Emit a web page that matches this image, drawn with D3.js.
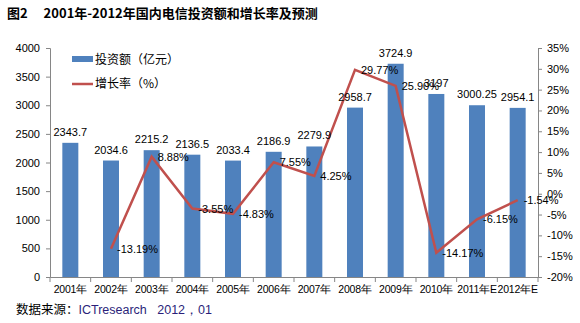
<!DOCTYPE html>
<html><head><meta charset="utf-8">
<script src="https://cdn.jsdelivr.net/npm/d3@7"></script>
<style>body{margin:0;background:#fff}svg{display:block}</style>
</head><body>
<script>
const categories = ["2001年","2002年","2003年","2004年","2005年","2006年","2007年","2008年","2009年","2010年","2011年E","2012年E"];
const investment = [2343.7,2034.6,2215.2,2136.5,2033.4,2186.9,2279.9,2958.7,3724.9,3197,3000.25,2954.1];
const investmentLabels = ["2343.7","2034.6","2215.2","2136.5","2033.4","2186.9","2279.9","2958.7","3724.9","3197","3000.25","2954.1"];
const growth = [null,-13.19,8.88,-3.55,-4.83,7.55,4.25,29.77,25.90,-14.17,-6.15,-1.54];
const leftTicks = [0,500,1000,1500,2000,2500,3000,3500,4000];
const rightTicks = [-20,-15,-10,-5,0,5,10,15,20,25,30,35];

const W=580,H=323;
const svg=d3.select("body").append("svg").attr("width",W).attr("height",H);
const font="'Liberation Sans', Arial, sans-serif";
const cjk="'Noto Sans CJK SC', sans-serif";
const L=50,R=538,T=48,B=277;
const x=d3.scaleBand().domain(categories).range([L,R]);
const y=d3.scaleLinear().domain([0,4000]).range([B,T]);
const y2=d3.scaleLinear().domain([-20,35]).range([B,T]);
const axisColor="#868686";

// title
svg.append("text").attr("x",7).attr("y",18).attr("font-family",cjk).attr("font-weight","bold").attr("font-size",13).attr("fill","#000")
  .text("图2　 2001年-2012年国内电信投资额和增长率及预测");

// bars
svg.append("g").selectAll("rect").data(investment).join("rect")
  .attr("x",(d,i)=>x(categories[i])+x.bandwidth()/2-8).attr("width",16)
  .attr("y",d=>y(d)).attr("height",d=>B-y(d)).attr("fill","#4F81BD");

// left axis
const gl=svg.append("g").attr("transform",`translate(${L},0)`)
  .call(d3.axisLeft(y).tickValues(leftTicks).tickSize(4).tickFormat(d3.format("d")));
// right axis
const gr=svg.append("g").attr("transform",`translate(${R},0)`)
  .call(d3.axisRight(y2).tickValues(rightTicks).tickSize(4).tickFormat(d=>d+"%"));
// bottom axis
const gb=svg.append("g").attr("transform",`translate(0,${B})`)
  .call(d3.axisBottom(x).tickSize(0).tickPadding(9));
[gl,gr,gb].forEach(g=>{
  g.select(".domain").attr("stroke",axisColor);
  g.selectAll(".tick line").attr("stroke",axisColor);
  g.selectAll("text").attr("font-family",font).attr("font-size",11).attr("fill","#000");
});
gl.selectAll("text").attr("x",-10);
gr.selectAll("text").attr("x",9);
gb.selectAll("text").attr("font-size",10.5).attr("letter-spacing","-0.2px");
// category boundary ticks
const bounds=categories.map(c=>x(c)).concat([R]);
svg.append("g").selectAll("line").data(bounds).join("line")
  .attr("x1",d=>d).attr("x2",d=>d).attr("y1",B).attr("y2",B+5).attr("stroke",axisColor);

// line
const pts=growth.map((g,i)=>({g,i})).filter(p=>p.g!==null);
const line=d3.line().x(p=>x(categories[p.i])+x.bandwidth()/2).y(p=>y2(p.g));
svg.append("path").datum(pts).attr("d",line).attr("fill","none").attr("stroke","#C0504D").attr("stroke-width",2.5).attr("stroke-linejoin","miter");

// bar labels
svg.append("g").selectAll("text").data(investment).join("text")
  .attr("x",(d,i)=>x(categories[i])+x.bandwidth()/2).attr("y",d=>y(d)-7)
  .attr("text-anchor","middle").attr("font-family",font).attr("font-size",11).attr("fill","#000")
  .text((d,i)=>investmentLabels[i]);

// growth labels
svg.append("g").selectAll("text").data(pts).join("text")
  .attr("x",p=>x(categories[p.i])+x.bandwidth()/2+6).attr("y",p=>y2(p.g)+4)
  .attr("font-family",font).attr("font-size",11).attr("fill","#000")
  .text(p=>p.g.toFixed(2)+"%");

// legend
svg.append("rect").attr("x",72).attr("y",56).attr("width",21).attr("height",6).attr("fill","#4F81BD");
svg.append("text").attr("x",95).attr("y",64).attr("font-family",cjk).attr("font-size",12).attr("fill","#000").text("投资额（亿元）");
svg.append("line").attr("x1",72).attr("x2",93).attr("y1",84).attr("y2",84).attr("stroke","#C0504D").attr("stroke-width",2.5);
svg.append("text").attr("x",95).attr("y",88).attr("font-family",cjk).attr("font-size",12).attr("fill","#000").text("增长率（%）");

// source
const src=svg.append("text").attr("x",16).attr("y",314).attr("font-size",12.5);
src.append("tspan").attr("font-family",cjk).attr("fill","#000").text("数据来源：");
src.append("tspan").attr("font-family",font).attr("fill","#2B1F7A").attr("xml:space","preserve").text("ICTresearch   2012，01");
</script>
</body></html>
